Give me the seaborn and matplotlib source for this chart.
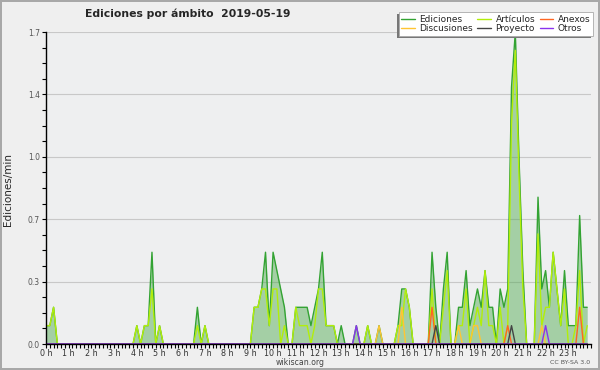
import numpy as np
import matplotlib
matplotlib.use("Agg")
import matplotlib.pyplot as plt
import seaborn as sns
from matplotlib.ticker import MultipleLocator, AutoMinorLocator
from matplotlib.patches import Rectangle

# edits per minute, one value per 10-minute slot (6 per hour)
ediciones = [
    0.1, 0.1, 0.2, 0, 0, 0,        # 0 h
    0, 0, 0, 0, 0, 0,              # 1 h
    0, 0, 0, 0, 0, 0,              # 2 h
    0, 0, 0, 0, 0, 0,              # 3 h
    0.1, 0, 0.1, 0.1, 0.5, 0,      # 4 h
    0.1, 0, 0, 0, 0, 0,            # 5 h
    0, 0, 0, 0, 0.2, 0,            # 6 h
    0.1, 0, 0, 0, 0, 0,            # 7 h
    0, 0, 0, 0, 0, 0,              # 8 h
    0, 0.2, 0.2, 0.3, 0.5, 0.1,    # 9 h
    0.5, 0.4, 0.3, 0.2, 0, 0,      # 10 h
    0.2, 0.2, 0.2, 0.2, 0.1, 0.2,  # 11 h
    0.3, 0.5, 0.1, 0.1, 0.1, 0,    # 12 h
    0.1, 0, 0, 0, 0.1, 0,          # 13 h
    0, 0.1, 0, 0, 0.1, 0,          # 14 h
    0, 0, 0, 0.1, 0.3, 0.3,        # 15 h
    0.2, 0, 0, 0, 0, 0,            # 16 h
    0.5, 0.2, 0, 0.3, 0.5, 0,      # 17 h
    0, 0.2, 0.2, 0.4, 0.1, 0.2,    # 18 h
    0.3, 0.2, 0.4, 0.2, 0.2, 0,    # 19 h
    0.3, 0.2, 0.3, 1.4, 1.7, 1.0,  # 20 h
    0.4, 0, 0, 0, 0.8, 0.3,        # 21 h
    0.4, 0.2, 0.5, 0.3, 0.1, 0.4,  # 22 h
    0.1, 0.1, 0.1, 0.7, 0.2, 0.2,  # 23 h
]

articulos = [
    0.1, 0.1, 0.2, 0, 0, 0,        # 0 h
    0, 0, 0, 0, 0, 0,              # 1 h
    0, 0, 0, 0, 0, 0,              # 2 h
    0, 0, 0, 0, 0, 0,              # 3 h
    0.1, 0, 0.1, 0.1, 0.3, 0,      # 4 h
    0.1, 0, 0, 0, 0, 0,            # 5 h
    0, 0, 0, 0, 0.1, 0,            # 6 h
    0.1, 0, 0, 0, 0, 0,            # 7 h
    0, 0, 0, 0, 0, 0,              # 8 h
    0, 0.2, 0.2, 0.3, 0.3, 0.1,    # 9 h
    0.3, 0.3, 0, 0.1, 0, 0,        # 10 h
    0.2, 0.1, 0.1, 0.1, 0, 0.1,    # 11 h
    0.3, 0.3, 0.1, 0.1, 0.1, 0,    # 12 h
    0, 0, 0, 0, 0, 0,              # 13 h
    0, 0.1, 0, 0, 0, 0,            # 14 h
    0, 0, 0, 0.1, 0.1, 0.3,        # 15 h
    0.2, 0, 0, 0, 0, 0,            # 16 h
    0.3, 0, 0, 0.2, 0.4, 0,        # 17 h
    0, 0.1, 0.1, 0.3, 0, 0.1,      # 18 h
    0.2, 0.1, 0.4, 0.1, 0.1, 0,    # 19 h
    0.2, 0, 0.1, 1.2, 1.6, 0.9,    # 20 h
    0.3, 0, 0, 0, 0.6, 0.1,        # 21 h
    0.2, 0.2, 0.5, 0.3, 0.1, 0.3,  # 22 h
    0, 0, 0.1, 0.4, 0, 0.1,        # 23 h
]

# the small namespaces only have a few non-zero slots
anexos_horas = ["17:00", "20:20", "23:30"]
anexos_vals = [0.2, 0.1, 0.2]
discusiones_horas = ["14:40", "15:40", "18:10", "18:50", "19:00", "21:50"]
discusiones_vals = [0.1, 0.2, 0.1, 0.1, 0.1, 0.1]
proyecto_horas = ["17:10", "20:30"]
proyecto_vals = [0.1, 0.1]
otros_horas = ["13:40", "22:00"]
otros_vals = [0.1, 0.1]

hour_labels = [f"{h} h" for h in range(24)]


def sparse(horas, vals):
    s = np.zeros(len(ediciones))
    for t, v in zip(horas, vals):
        h, m = t.split(":")
        s[int(h) * 6 + int(m) // 10] = v
    return s


hora = np.arange(len(ediciones)) * 10 / 60

series = [
    ("Ediciones", np.array(ediciones), "#33a333"),
    ("Artículos", np.array(articulos), "#b2ee0a"),
    ("Anexos", sparse(anexos_horas, anexos_vals), "#ff6622"),
    ("Discusiones", sparse(discusiones_horas, discusiones_vals), "#ffc533"),
    ("Proyecto", sparse(proyecto_horas, proyecto_vals), "#444444"),
    ("Otros", sparse(otros_horas, otros_vals), "#8a33ee"),
]

sns.set_theme(style="ticks")
plt.rcParams["font.family"] = ["DejaVu Sans"]

fig = plt.figure(figsize=(6, 3.7), dpi=100, facecolor="#efefef",
                 edgecolor="#a8a8a8", linewidth=1.5)
ax = fig.add_axes([46 / 600, 1 - 344 / 370, 545 / 600, 312 / 370])
ax.set_facecolor("#eeeff0")

ax.fill_between(hora, ediciones, color="#4aa84a", alpha=0.45, lw=0, zorder=1.5)

handles = {}
for name, vals, col in series:
    sns.lineplot(x=hora, y=vals, ax=ax, color=col, lw=1.0, zorder=2)
    handles[name] = ax.lines[-1]

ax.set_xlim(0, 24)
ax.set_ylim(0, 1.7)
ax.set_xticks(range(24))
ax.set_xticklabels(hour_labels)
ax.xaxis.set_minor_locator(MultipleLocator(1 / 6))
yt = np.linspace(0, 1.7, 6)
ax.set_yticks(yt)
ax.set_yticklabels([f"{v:.1f}" for v in yt])
ax.yaxis.set_minor_locator(AutoMinorLocator(4))

ax.tick_params(axis="both", which="both", direction="out", length=3,
               width=0.8, color="black")
ax.tick_params(axis="x", labelsize=5.8, labelcolor="#333333", pad=0.5)
ax.tick_params(axis="y", labelsize=5.5, labelcolor="#555555", pad=1.5)

ax.yaxis.grid(True, which="major", color="#c8c8c8", lw=0.8)
ax.set_axisbelow(True)
for side in ["top", "right"]:
    ax.spines[side].set_visible(False)
for side in ["left", "bottom"]:
    ax.spines[side].set_color("black")
    ax.spines[side].set_linewidth(1.0)
ax.set_xlabel("")
ax.set_ylabel("")

fig.text(85 / 600, 1 - 14 / 370, "Ediciones por ámbito  2019-05-19",
         ha="left", va="center", fontsize=7.8, fontweight="bold")
fig.text(8 / 600, 1 - 189 / 370, "Ediciones/min", rotation=90,
         ha="center", va="center", fontsize=7.5)
fig.text(300 / 600, 1 - 362.5 / 370, "wikiscan.org", ha="center",
         va="center", fontsize=5.6, color="#444444")
fig.text(590 / 600, 1 - 363 / 370, "CC BY-SA 3.0", ha="right",
         va="center", fontsize=4.5, color="#555555")

order = ["Ediciones", "Discusiones", "Artículos", "Proyecto", "Anexos", "Otros"]
leg = fig.legend([handles[n] for n in order], order, loc="upper right",
                 bbox_to_anchor=(593 / 600, 1 - 12 / 370), ncol=3,
                 fontsize=6.5, frameon=True, fancybox=False,
                 edgecolor="#aaaaaa", facecolor="white", framealpha=1,
                 handlelength=1.5, handletextpad=0.5, columnspacing=0.5,
                 labelspacing=0.05, borderpad=0.3, borderaxespad=0)
leg.get_frame().set_linewidth(0.6)

# offset drop shadow (left / down) behind the legend box
fig.canvas.draw()
bb = leg.get_window_extent()
fig.patches.append(Rectangle((bb.x0 - 2, bb.y0 - 2), bb.width, bb.height,
                             transform=None, facecolor="#777777",
                             edgecolor="none", zorder=4))

fig.savefig("out.png", dpi=100, facecolor=fig.get_facecolor(),
            edgecolor=fig.get_edgecolor())
